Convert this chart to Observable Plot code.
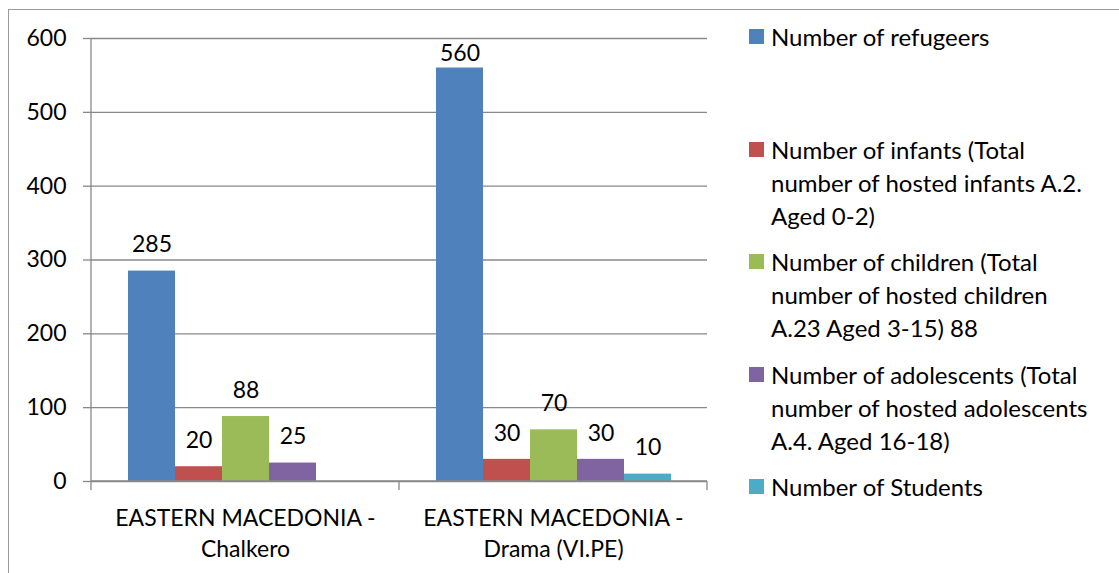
<!DOCTYPE html>
<html>
<head>
<meta charset="utf-8">
<script src="https://cdn.jsdelivr.net/npm/d3@7"></script>
<script src="https://cdn.jsdelivr.net/npm/@observablehq/plot@0.6"></script>
<style>
  body { margin: 0; background: #fff; font-family: Lato, "Open Sans", sans-serif; }
  #wrap { position: relative; width: 1119px; height: 573px; overflow: hidden; background: #fff; }
  #border { position: absolute; left: 8px; top: 9px; width: 1300px; height: 800px;
            border-left: 1.5px solid #9a9a9a; border-top: 1.5px solid #9a9a9a; }
  #chart { position: absolute; left: 0; top: 0; }
  .item { position: absolute; left: 749px; font-size: 24px; line-height: 33px; color: #000; white-space: nowrap; }
  .item .sw { position: absolute; left: 0; top: 9px; width: 15px; height: 15px; }
  .item .tx { position: absolute; left: 22px; top: 0; }
</style>
</head>
<body>
<div id="wrap">
  <div id="border"></div>
  <div id="chart"></div>
  <div id="legend"></div>
</div>
<script>
const regions = ["EASTERN MACEDONIA - Chalkero", "EASTERN MACEDONIA - Drama (VI.PE)"];
const series = [
  "Number of refugeers",
  "Number of infants (Total number of hosted infants A.2. Aged 0-2)",
  "Number of children (Total number of hosted children A.23 Aged 3-15) 88",
  "Number of adolescents (Total number of hosted adolescents A.4. Aged 16-18)",
  "Number of Students"
];
const legendLines = [
  ["Number of refugeers"],
  ["Number of infants (Total", "number of hosted infants A.2.", "Aged 0-2)"],
  ["Number of children (Total", "number of hosted children", "A.23 Aged 3-15) 88"],
  ["Number of adolescents (Total", "number of hosted adolescents", "A.4. Aged 16-18)"],
  ["Number of Students"]
];
const colors = ["#4F81BD", "#C0504D", "#9BBB59", "#8064A2", "#4BACC6"];
const chalkeroValues = [285, 20, 88, 25, null];
const dramaValues = [560, 30, 70, 30, 10];
const yTicks = [0, 100, 200, 300, 400, 500, 600];

const data = [];
[chalkeroValues, dramaValues].forEach((vals, ri) => {
  vals.forEach((v, si) => {
    if (v != null) data.push({region: regions[ri], series: series[si], value: v});
  });
});

const plot = Plot.plot({
  width: 715,
  height: 573,
  marginLeft: 91,
  marginRight: 8,
  marginTop: 38,
  marginBottom: 92,
  style: {fontFamily: "Lato, 'Open Sans', sans-serif", fontSize: "23px", color: "#000", background: "transparent"},
  fx: {domain: regions, padding: 0},
  x: {domain: series, paddingInner: 0, paddingOuter: 0.763, axis: null},
  y: {domain: [0, 600]},
  color: {domain: series, range: colors},
  marks: [
    Plot.gridY(yTicks, {stroke: "#888", strokeOpacity: 1, strokeWidth: 1.3}),
    Plot.barY(data, {fx: "region", x: "series", y: "value", fill: "series"}),
    Plot.text(data.filter(d => d.value < 550), {fx: "region", x: "series", y: "value", text: d => String(d.value),
      lineAnchor: "middle", dy: -26, fill: "#000", fontSize: 23}),
    Plot.text(data.filter(d => d.value >= 550), {fx: "region", x: "series", y: "value", text: d => String(d.value),
      lineAnchor: "middle", dy: -14, fill: "#000", fontSize: 23}),
    Plot.axisY(yTicks, {tickSize: 8, tickPadding: 17, stroke: "#888", strokeWidth: 1.3, fill: "#000", fontSize: 23, label: null}),
    Plot.axisFx({anchor: "bottom", tickSize: 0, tickPadding: 22, fontSize: 23, lineHeight: 1.35, fill: "#000", label: null,
      tickFormat: d => d.replace(" - ", " -\n")})
  ]
});
document.getElementById("chart").appendChild(plot);

// axis frame lines drawn from Plot's own scales
const fx = plot.scale("fx");
const ys = plot.scale("y");
const svg = d3.select(plot);
const y0 = ys.apply(0), yTop = ys.apply(600);
const left = fx.apply(regions[0]);
const bw = fx.bandwidth;
const g = svg.append("g").attr("stroke", "#888").attr("stroke-width", 1.3);
g.append("line").attr("x1", left).attr("x2", left).attr("y1", yTop).attr("y2", y0 + 9);
g.append("line").attr("x1", left).attr("x2", fx.apply(regions[1]) + bw).attr("y1", y0).attr("y2", y0);
regions.forEach(r => {
  const xr = fx.apply(r) + bw;
  g.append("line").attr("x1", xr).attr("x2", xr).attr("y1", y0).attr("y2", y0 + 9);
});

// legend
const tops = [20, 133, 245, 358, 470];
const legend = document.getElementById("legend");
legendLines.forEach((lines, i) => {
  const div = document.createElement("div");
  div.className = "item";
  div.style.top = tops[i] + "px";
  const sw = document.createElement("div");
  sw.className = "sw";
  sw.style.background = colors[i];
  const tx = document.createElement("div");
  tx.className = "tx";
  tx.innerHTML = lines.join("<br>");
  div.appendChild(sw);
  div.appendChild(tx);
  legend.appendChild(div);
});
</script>
</body>
</html>
